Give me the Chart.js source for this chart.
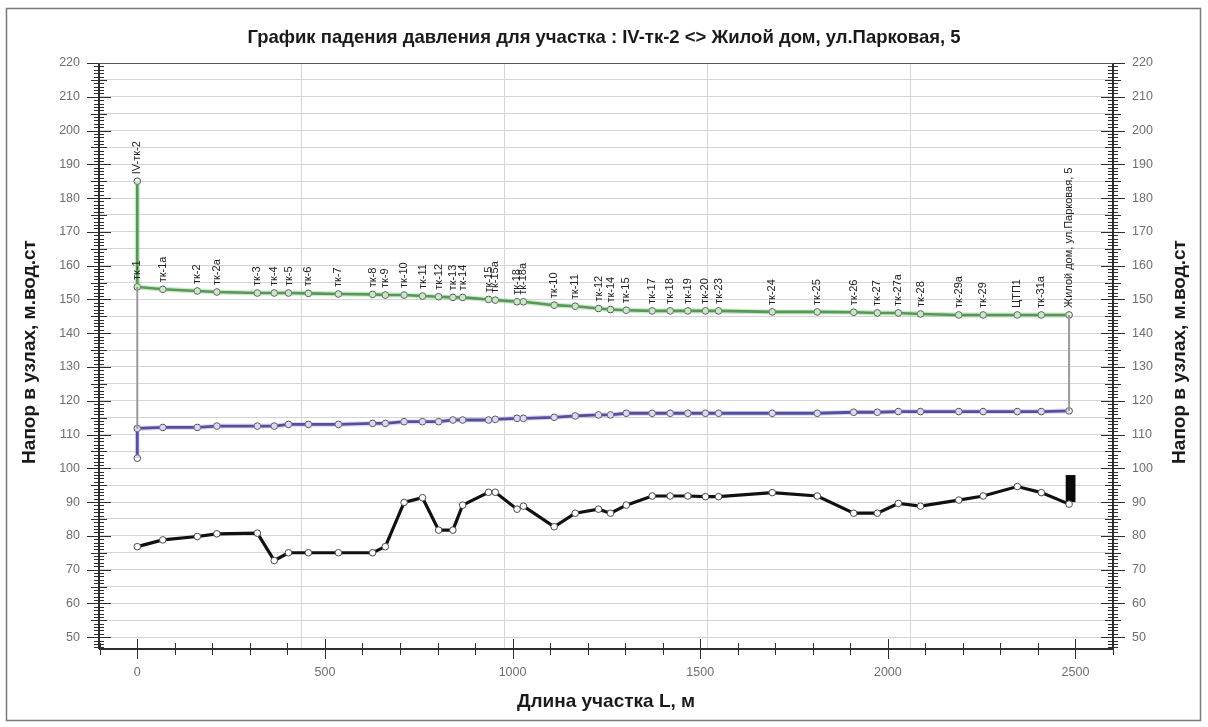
<!DOCTYPE html>
<html lang="ru">
<head>
<meta charset="utf-8">
<title>График падения давления</title>
<script src="https://cdn.jsdelivr.net/npm/chart.js@4/dist/chart.umd.min.js"></script>
<style>
  html, body { margin: 0; padding: 0; background: #fff; }
  #wrap { width: 1208px; height: 727px; position: relative; }
  canvas { display: block; }
</style>
</head>
<body>
<div id="wrap"><canvas id="c" width="1208" height="727"></canvas></div>
<script>
// Distance of every node from the start of the section, m
const distances = [0, 68, 160, 212, 320, 365, 403, 456, 536, 627, 661, 711, 760, 803, 841, 867,
  936, 954, 1012, 1029, 1111, 1167, 1229, 1261, 1303, 1372, 1420, 1467, 1514, 1549, 1692,
  1812, 1909, 1972, 2028, 2087, 2189, 2254, 2345, 2409, 2483];

// Head in the supply pipe, m water column
const supplyHead = [153.7, 153.0, 152.5, 152.2, 151.9, 151.9, 151.9, 151.8, 151.6, 151.5, 151.3,
  151.3, 151.0, 150.8, 150.6, 150.6, 150.0, 149.8, 149.3, 149.3, 148.3, 148.0, 147.3, 147.0,
  146.8, 146.6, 146.6, 146.6, 146.6, 146.6, 146.3, 146.3, 146.2, 146.0, 146.0, 145.7, 145.4,
  145.4, 145.4, 145.4, 145.4];

// Head in the return pipe, m water column
const returnHead = [111.8, 112.1, 112.1, 112.5, 112.5, 112.5, 113.0, 113.0, 113.0, 113.3, 113.3,
  113.8, 113.8, 113.8, 114.3, 114.3, 114.3, 114.5, 114.8, 114.8, 115.1, 115.5, 115.8, 115.8,
  116.3, 116.3, 116.3, 116.3, 116.3, 116.3, 116.3, 116.3, 116.6, 116.6, 116.8, 116.8, 116.8,
  116.8, 116.8, 116.8, 117.0];

// Ground elevation at the nodes, m
const groundLevel = [76.8, 78.8, 79.8, 80.6, 80.8, 72.7, 75.0, 75.0, 75.0, 75.0, 76.8, 89.9, 91.3,
  81.7, 81.7, 89.1, 92.9, 92.9, 87.9, 88.8, 82.7, 86.7, 87.9, 86.7, 89.1, 91.8, 91.8, 91.8,
  91.6, 91.6, 92.8, 91.8, 86.7, 86.7, 89.6, 88.8, 90.6, 91.8, 94.6, 92.8, 89.4];

// Node names
const nodeNames = ["тк-1", "тк-1а", "тк-2", "тк-2а", "тк-3", "тк-4", "тк-5", "тк-6", "тк-7", "тк-8",
  "тк-9", "тк-10", "тк-11", "тк-12", "тк-13", "тк-14", "тк-15", "тк-15а", "тк-18", "тк-18а",
  "тк-10", "тк-11", "тк-12", "тк-14", "тк-15", "тк-17", "тк-18", "тк-19", "тк-20", "тк-23",
  "тк-24", "тк-25", "тк-26", "тк-27", "тк-27а", "тк-28", "тк-29а", "тк-29", "ЦТП1", "тк-31а",
  "Жилой дом, ул.Парковая, 5"];

// Source node: available head at the source and return head there
const sourceName = "IV-тк-2";
const sourceSupply = 185;
const sourceReturn = 103;

// Consumer building block (distance range and height range)
const buildingSpan = [2474, 2500];
const buildingLevels = [90, 98];

// Axis ranges and tick labels
const xRange = [-102, 2600];
const yRange = [46.5, 220];
const xTickLabels = [0, 500, 1000, 1500, 2000, 2500];
const yTickLabels = [50, 60, 70, 80, 90, 100, 110, 120, 130, 140, 150, 160, 170, 180, 190, 200, 210, 220];

const titleText = "График падения давления для участка : IV-тк-2 <> Жилой дом, ул.Парковая, 5";
const yTitle = "Напор в узлах, м.вод.ст";
const xTitle = "Длина участка L, м";

const FONT = "'Liberation Sans', Arial, sans-serif";

const pts = (ys) => distances.map((d, i) => ({ x: d, y: ys[i] }));
const last = distances.length - 1;

const marker = {
  pointRadius: 3.3, pointBackgroundColor: '#ffffff', pointBorderColor: '#4a4a4a',
  pointBorderWidth: 1, pointHoverRadius: 3.3
};
const noMarker = { pointRadius: 0, pointHoverRadius: 0 };

const datasets = [
  // grey connectors between supply and return at both ends
  { data: [{ x: 0, y: supplyHead[0] }, { x: 0, y: returnHead[0] }], borderColor: '#9a9a9a', borderWidth: 2, ...noMarker },
  { data: [{ x: distances[last], y: supplyHead[last] }, { x: distances[last], y: returnHead[last] }], borderColor: '#9a9a9a', borderWidth: 2, ...noMarker },
  // soft halos under the pipe lines
  { data: [{ x: 0, y: sourceSupply }, ...pts(supplyHead)], borderColor: 'rgba(140,200,140,0.45)', borderWidth: 5, ...noMarker },
  { data: [{ x: 0, y: sourceReturn }, ...pts(returnHead)], borderColor: 'rgba(170,160,225,0.4)', borderWidth: 5, ...noMarker },
  // ground
  { data: pts(groundLevel), borderColor: '#111111', borderWidth: 3.2, ...marker },
  // return
  { data: [{ x: 0, y: sourceReturn }, ...pts(returnHead)], borderColor: '#1c1c6c', borderWidth: 2.8, ...marker },
  // supply
  { data: [{ x: 0, y: sourceSupply }, ...pts(supplyHead)], borderColor: '#2a7329', borderWidth: 2.6, ...marker }
];
datasets.forEach(d => { d.showLine = true; d.fill = false; d.tension = 0; });

const decor = {
  id: 'decor',
  beforeDraw(chart) {
    const ctx = chart.ctx;
    ctx.save();
    ctx.fillStyle = '#ffffff';
    ctx.fillRect(0, 0, chart.width, chart.height);
    ctx.strokeStyle = '#7a7a7a';
    ctx.lineWidth = 1.5;
    ctx.strokeRect(6.5, 8.5, 1194, 712);
    ctx.restore();
  },
  beforeDatasetsDraw(chart) {
    const ctx = chart.ctx;
    const { x, y } = chart.scales;
    ctx.save();
    // building block
    ctx.fillStyle = '#0a0a0a';
    const bx0 = x.getPixelForValue(buildingSpan[0]), bx1 = x.getPixelForValue(buildingSpan[1]);
    const by0 = y.getPixelForValue(buildingLevels[1]), by1 = y.getPixelForValue(buildingLevels[0]);
    ctx.fillRect(bx0, by0, bx1 - bx0, by1 - by0);
    ctx.restore();
  },
  afterDraw(chart) {
    const ctx = chart.ctx;
    const { x, y } = chart.scales;
    const a = chart.chartArea;
    ctx.save();
    // ruler axes left and right
    ctx.strokeStyle = '#2e2e2e';
    [a.left, a.right].forEach(ax => {
      ctx.lineWidth = 2;
      ctx.beginPath(); ctx.moveTo(ax, a.top); ctx.lineTo(ax, a.bottom); ctx.stroke();
      ctx.lineWidth = 1;
      for (let v = Math.ceil(yRange[0]); v <= yRange[1]; v++) {
        const py = Math.round(y.getPixelForValue(v)) + 0.5;
        const len = v % 10 === 0 ? 12 : (v % 5 === 0 ? 8 : 5);
        ctx.beginPath(); ctx.moveTo(ax - len, py); ctx.lineTo(ax + len, py); ctx.stroke();
      }
    });
    // top frame of the plot
    ctx.lineWidth = 1;
    ctx.strokeStyle = '#555';
    ctx.beginPath(); ctx.moveTo(a.left, a.top + 0.5); ctx.lineTo(a.right, a.top + 0.5); ctx.stroke();
    // bottom axis
    ctx.strokeStyle = '#2e2e2e';
    ctx.lineWidth = 2;
    ctx.beginPath(); ctx.moveTo(a.left, a.bottom); ctx.lineTo(a.right, a.bottom); ctx.stroke();
    ctx.lineWidth = 1;
    for (let d = -100; d <= xRange[1]; d += 100) {
      const px = Math.round(x.getPixelForValue(d)) + 0.5;
      const len = d % 500 === 0 ? 10 : 6;
      ctx.beginPath(); ctx.moveTo(px, a.bottom - len); ctx.lineTo(px, a.bottom + len); ctx.stroke();
    }
    // tick labels
    ctx.fillStyle = '#6e6e6e';
    ctx.font = '12.5px ' + FONT;
    ctx.textBaseline = 'middle';
    yTickLabels.forEach(v => {
      const py = y.getPixelForValue(v);
      ctx.textAlign = 'right'; ctx.fillText(String(v), a.left - 19, py);
      ctx.textAlign = 'left'; ctx.fillText(String(v), a.right + 19, py);
    });
    ctx.textAlign = 'center';
    xTickLabels.forEach(v => ctx.fillText(String(v), x.getPixelForValue(v), a.bottom + 24));
    // titles
    ctx.fillStyle = '#1a1a1a';
    ctx.font = 'bold 18.5px ' + FONT;
    ctx.fillText(titleText, 604, 38);
    ctx.font = 'bold 19px ' + FONT;
    ctx.fillText(xTitle, (a.left + a.right) / 2, 702);
    const midY = (a.top + a.bottom) / 2 - 4;
    [30, 1180].forEach(tx => {
      ctx.save(); ctx.translate(tx, midY); ctx.rotate(-Math.PI / 2);
      ctx.fillText(yTitle, 0, 0); ctx.restore();
    });
    // node names, written upwards above the supply line
    ctx.fillStyle = '#222222';
    ctx.font = '11px ' + FONT;
    ctx.textAlign = 'left';
    const label = (d, v, text) => {
      ctx.save();
      ctx.translate(x.getPixelForValue(d), y.getPixelForValue(v) - 7);
      ctx.rotate(-Math.PI / 2);
      ctx.fillText(text, 0, 0);
      ctx.restore();
    };
    label(0, sourceSupply, sourceName);
    distances.forEach((d, i) => label(d, supplyHead[i], nodeNames[i]));
    ctx.restore();
  }
};

new Chart(document.getElementById('c'), {
  type: 'scatter',
  data: { datasets },
  options: {
    responsive: false,
    animation: false,
    events: [],
    layout: { padding: { top: 63, bottom: 0, left: 0, right: 0 } },
    plugins: { legend: { display: false }, tooltip: { enabled: false }, title: { display: false } },
    scales: {
      x: {
        type: 'linear', min: xRange[0], max: xRange[1],
        ticks: { display: false, stepSize: 500, includeBounds: false },
        grid: { color: '#d6d6d6', drawTicks: false },
        border: { display: false },
        afterFit: s => { s.height = 78; }
      },
      y: {
        type: 'linear', position: 'left', min: yRange[0], max: yRange[1],
        ticks: { display: false, stepSize: 5, includeBounds: false },
        grid: { color: '#d4d4d4', drawTicks: false },
        border: { display: false },
        afterFit: s => { s.width = 99; }
      },
      y2: {
        type: 'linear', position: 'right', min: yRange[0], max: yRange[1],
        ticks: { display: false },
        grid: { display: false, drawTicks: false },
        border: { display: false },
        afterFit: s => { s.width = 95; }
      }
    }
  },
  plugins: [decor]
});
</script>
</body>
</html>
